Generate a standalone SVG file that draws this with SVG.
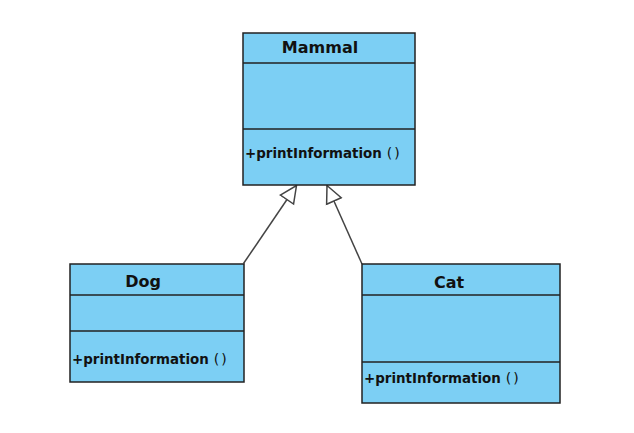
<svg xmlns="http://www.w3.org/2000/svg" width="634" height="433" viewBox="0 0 634 433">
<style>
.box{fill:#7ccff4;stroke:#222;stroke-width:1.5}
.div{stroke:#222;stroke-width:1.5}
.name{font-family:"DejaVu Sans",Verdana,sans-serif;font-weight:bold;font-size:16px;fill:#111}
.op{font-family:"DejaVu Sans",Verdana,sans-serif;font-weight:bold;font-size:13.4px;fill:#111}
.par{font-weight:normal;font-size:14px;letter-spacing:2px}
.conn{stroke:#444;stroke-width:1.5;fill:none}
</style>
<defs>
<marker id="gen" markerWidth="22" markerHeight="22" refX="18" refY="9.5" orient="auto" markerUnits="userSpaceOnUse">
<path d="M1,1.5 L18,9.5 L1,17.5 Z" fill="#fff" stroke="#444" stroke-width="1.5"/>
</marker>
</defs>
<rect width="634" height="433" fill="#fff"/>
<g id="connectors">
<line class="conn" x1="243.5" y1="263.5" x2="296.5" y2="185.5" marker-end="url(#gen)"/>
<line class="conn" x1="362" y1="264" x2="327" y2="185.5" marker-end="url(#gen)"/>
</g>
<g id="mammal">
<rect class="box" x="243" y="33" width="172" height="152"/>
<line class="div" x1="243" y1="63" x2="415" y2="63"/>
<line class="div" x1="243" y1="129" x2="415" y2="129"/>
<text class="name" x="320" y="53" text-anchor="middle">Mammal</text>
<text class="op" x="245" y="158">+printInformation<tspan class="par" dx="5">()</tspan></text>
</g>
<g id="dog">
<rect class="box" x="70" y="264" width="174" height="118"/>
<line class="div" x1="70" y1="295" x2="244" y2="295"/>
<line class="div" x1="70" y1="331" x2="244" y2="331"/>
<text class="name" x="143" y="287" text-anchor="middle">Dog</text>
<text class="op" x="72" y="364">+printInformation<tspan class="par" dx="5">()</tspan></text>
</g>
<g id="cat">
<rect class="box" x="362" y="264" width="198" height="139"/>
<line class="div" x1="362" y1="295" x2="560" y2="295"/>
<line class="div" x1="362" y1="362" x2="560" y2="362"/>
<text class="name" x="449" y="288" text-anchor="middle">Cat</text>
<text class="op" x="364" y="383">+printInformation<tspan class="par" dx="5">()</tspan></text>
</g>
</svg>
